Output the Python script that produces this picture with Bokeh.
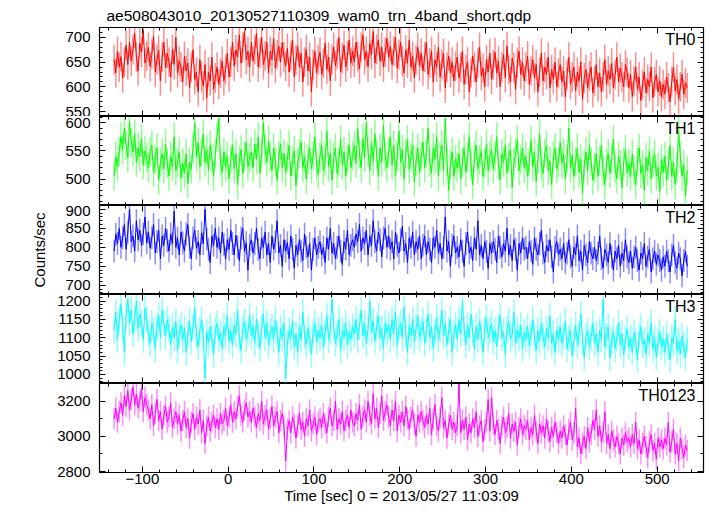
import numpy as np
from bokeh.plotting import figure
from bokeh.models import LinearAxis, Range1d, Label, SingleIntervalTicker
from bokeh.layouts import column
from bokeh.embed import file_html
from bokeh.resources import INLINE

# ---------------- data ----------------
TITLE = "ae508043010_20130527110309_wam0_trn_4band_short.qdp"
XLABEL = "Time [sec] 0 = 2013/05/27 11:03:09"
YLABEL = "Counts/sec"
T0 = -133.0     # time of first bin [s]
DT = 2.0        # bin width [s]
BANDS = ["TH0", "TH1", "TH2", "TH3", "TH0123"]
ERRS = [30, 26, 30, 36, 60]   # typical 1-sigma error per bin (counts/sec)

th0 = [
    655, 628, 672, 640, 661, 618, 650, 684, 645, 690, 652, 675, 708, 660, 632, 688, 670, 715, 648, 662,
    680, 641, 666, 702, 630, 655, 674, 612, 660, 690, 638, 668, 650, 620, 676, 645, 700, 628, 652, 640,
    610, 662, 632, 648, 598, 640, 675, 615, 630, 590, 655, 620, 602, 645, 578, 630, 612, 660, 595, 618,
    640, 605, 628, 652, 612, 635, 668, 620, 650, 690, 642, 675, 660, 705, 648, 680, 712, 655, 672, 640,
    690, 652, 675, 708, 640, 668, 700, 645, 662, 690, 628, 672, 655, 698, 638, 665, 682, 650, 690, 660,
    642, 678, 630, 662, 695, 620, 655, 682, 640, 668, 610, 650, 676, 632, 660, 590, 645, 672, 628, 655,
    670, 625, 648, 688, 635, 660, 612, 655, 680, 642, 666, 700, 630, 658, 684, 640, 662, 695, 648, 672,
    650, 690, 662, 636, 680, 705, 655, 672, 640, 688, 665, 712, 648, 676, 695, 652, 680, 640, 670, 698,
    660, 682, 645, 672, 700, 638, 665, 690, 652, 628, 675, 648, 695, 640, 662, 618, 655, 680, 642, 668,
    632, 660, 690, 625, 648, 672, 610, 655, 640, 680, 620, 645, 668, 598, 640, 662, 628, 650, 612, 642,
    660, 618, 640, 672, 605, 635, 650, 590, 628, 662, 640, 610, 648, 680, 622, 638, 600, 655, 630, 668,
    615, 645, 670, 628, 652, 600, 640, 665, 618, 682, 635, 610, 658, 640, 595, 648, 672, 625, 650, 612,
    640, 662, 605, 632, 655, 618, 645, 590, 630, 668, 612, 640, 625, 660, 598, 635, 615, 650, 600, 628,
    645, 610, 632, 580, 625, 660, 605, 620, 640, 592, 630, 612, 650, 575, 618, 635, 598, 622, 640, 588,
    612, 645, 600, 628, 590, 620, 655, 605, 632, 615, 648, 598, 625, 660, 610, 638, 620, 600, 645, 630,
    598, 625, 580, 612, 640, 595, 620, 572, 605, 630, 588, 615, 600, 640, 578, 610, 625, 590, 612, 580,
    605, 585, 620, 598, 570, 610, 640, 592, 615, 575, 600, 625, 585, 608, 598,
]

th1 = [
    505, 540, 522, 548, 575, 552, 590, 560, 538, 602, 565, 548, 580, 530, 556, 540, 572, 525, 550, 538,
    520, 548, 560, 512, 535, 555, 498, 530, 545, 518, 562, 528, 505, 540, 522, 575, 515, 530, 548, 502,
    528, 510, 545, 492, 530, 518, 555, 600, 540, 565, 522, 548, 580, 530, 552, 515, 560, 538, 505, 545,
    575, 608, 530, 512, 548, 522, 540, 500, 535, 560, 518, 545, 490, 532, 552, 510, 540, 565, 522, 538,
    548, 520, 562, 535, 575, 510, 545, 600, 552, 530, 568, 540, 515, 555, 532, 498, 540, 562, 520, 545,
    512, 538, 560, 505, 532, 550, 488, 528, 545, 565, 520, 540, 500, 535, 555, 518, 542, 575, 525, 508,
    540, 560, 515, 532, 585, 522, 545, 498, 538, 555, 510, 530, 570, 525, 548, 505, 535, 560, 520, 542,
    560, 528, 590, 545, 520, 572, 538, 600, 550, 515, 565, 532, 580, 545, 505, 555, 530, 595, 540, 520,
    548, 575, 525, 560, 505, 540, 585, 530, 552, 500, 545, 570, 518, 538, 560, 495, 532, 555, 512, 540,
    565, 520, 545, 590, 530, 510, 555, 535, 575, 505, 540, 560, 515, 608, 532, 480, 525, 548, 505, 535,
    520, 545, 500, 530, 555, 512, 538, 575, 525, 490, 540, 560, 518, 535, 550, 505, 528, 562, 515, 540,
    552, 518, 540, 575, 525, 498, 545, 530, 560, 510, 538, 552, 485, 528, 545, 570, 515, 535, 555, 520,
    540, 505, 530, 568, 522, 548, 495, 535, 580, 525, 510, 545, 560, 515, 532, 490, 540, 555, 518, 530,
    565, 528, 545, 500, 535, 590, 520, 542, 505, 530, 555, 512, 535, 475, 525, 548, 515, 560, 530, 498,
    520, 545, 505, 532, 560, 515, 490, 528, 545, 510, 535, 570, 518, 500, 540, 525, 485, 530, 552, 512,
    528, 505, 545, 515, 490, 532, 555, 510, 525, 480, 538, 515, 550, 500, 528, 545, 505, 520, 478, 535,
    512, 540, 498, 525, 560, 505, 530, 490, 520, 585, 540, 505, 525, 470, 515,
]

th2 = [
    790, 835, 810, 850, 800, 825, 860, 795, 840, 900, 815, 830, 790, 870, 820, 845, 805, 835, 880, 812,
    840, 798, 825, 860, 785, 815, 845, 770, 830, 805, 850, 818, 790, 835, 810, 895, 800, 825, 780, 840,
    812, 790, 835, 860, 800, 770, 825, 845, 798, 815, 780, 838, 810, 900, 822, 795, 760, 830, 805, 850,
    800, 825, 785, 840, 808, 770, 820, 795, 845, 810, 780, 832, 800, 765, 825, 850, 790, 812, 740, 805,
    820, 785, 810, 850, 795, 770, 825, 800, 840, 780, 810, 760, 830, 795, 815, 870, 785, 805, 750, 820,
    790, 812, 770, 830, 795, 745, 805, 780, 820, 790, 765, 835, 800, 775, 810, 740, 795, 825, 780, 800,
    815, 780, 800, 760, 825, 795, 850, 785, 810, 770, 800, 830, 790, 755, 815, 795, 845, 780, 805, 820,
    800, 835, 815, 860, 790, 825, 810, 845, 780, 830, 805, 870, 815, 790, 840, 820, 775, 825, 850, 800,
    830, 795, 815, 770, 840, 805, 785, 820, 855, 790, 810, 760, 825, 800, 840, 780, 815, 795, 830, 770,
    805, 830, 780, 815, 795, 760, 825, 800, 845, 785, 810, 770, 800, 880, 790, 815, 750, 805, 830, 785,
    800, 775, 820, 790, 750, 810, 840, 785, 800, 765, 825, 795, 870, 780, 805, 770, 815, 790, 745, 810,
    785, 815, 795, 760, 830, 800, 775, 810, 790, 850, 780, 805, 765, 820, 795, 740, 810, 785, 825, 795,
    800, 770, 815, 790, 755, 825, 795, 780, 810, 845, 785, 760, 805, 790, 820, 775, 735, 800, 815, 780,
    795, 770, 810, 760, 785, 820, 775, 750, 800, 780, 830, 765, 790, 740, 805, 780, 760, 815, 785, 770,
    800, 765, 785, 830, 770, 745, 795, 780, 760, 810, 775, 740, 790, 770, 805, 750, 785, 765, 820, 775,
    760, 790, 745, 775, 800, 765, 740, 785, 770, 810, 750, 775, 795, 735, 770, 790, 755, 780, 765, 740,
    775, 750, 790, 765, 735, 780, 805, 760, 745, 785, 770, 725, 765, 790, 750,
]

th3 = [
    1120, 1170, 1095, 1150, 1190, 1130, 1060, 1160, 1205, 1140, 1175, 1110, 1150, 1200, 1125, 1165, 1140, 1095, 1180, 1150,
    1110, 1085, 1140, 1120, 1070, 1130, 1160, 1100, 1175, 1140, 1105, 1150, 1125, 1080, 1130, 1100, 1145, 1065, 1115, 1135,
    1095, 1125, 1060, 1110, 1145, 1090, 1130, 1180, 1105, 1075, 1120, 1150, 1100, 990, 1115, 1085, 1130, 1100, 1055, 1120,
    1140, 1095, 1115, 1070, 1130, 1105, 1160, 1090, 1120, 1080, 1135, 1110, 1175, 1100, 1065, 1125, 1145, 1095, 1115, 1160,
    1105, 1130, 1085, 1150, 1110, 1070, 1125, 1165, 1100, 1140, 1080, 1115, 1130, 1095, 1150, 1110, 1060, 1125, 1100, 1140,
    990, 1085, 1120, 1100, 1145, 1075, 1110, 1060, 1130, 1095, 1170, 1105, 1080, 1125, 1100, 1055, 1115, 1140, 1090, 1120,
    1100, 1135, 1075, 1115, 1160, 1095, 1120, 1205, 1130, 1085, 1110, 1150, 1065, 1120, 1100, 1140, 1080, 1115, 1095, 1130,
    1110, 1150, 1095, 1130, 1175, 1105, 1140, 1085, 1125, 1200, 1115, 1145, 1090, 1130, 1160, 1100, 1125, 1070, 1140, 1115,
    1135, 1095, 1150, 1110, 1170, 1080, 1125, 1140, 1100, 1185, 1115, 1060, 1130, 1105, 1150, 1090, 1125, 1160, 1100, 1120,
    1145, 1085, 1120, 1165, 1100, 1130, 1070, 1115, 1155, 1095, 1125, 1175, 1105, 1140, 1080, 1120, 1150, 1060, 1110, 1135,
    1095, 1150, 1110, 1200, 1125, 1080, 1135, 1100, 1165, 1115, 1070, 1130, 1095, 1145, 1110, 1060, 1125, 1155, 1100, 1120,
    1140, 1090, 1120, 1075, 1130, 1160, 1100, 1115, 1055, 1125, 1145, 1095, 1110, 1170, 1085, 1120, 1100, 1135, 1070, 1115,
    1095, 1130, 1080, 1110, 1150, 1100, 1065, 1120, 1090, 1140, 1105, 1075, 1125, 1100, 1160, 1085, 1110, 1060, 1120, 1095,
    1130, 1085, 1105, 1145, 1070, 1100, 1120, 1050, 1095, 1135, 1080, 1110, 1165, 1090, 1045, 1105, 1120, 1075, 1100, 1140,
    1085, 1110, 1060, 1120, 1095, 1205, 1075, 1105, 1130, 1045, 1090, 1115, 1070, 1100, 1140, 1080, 1110, 1055, 1095, 1125,
    1075, 1100, 1060, 1115, 1090, 1040, 1105, 1130, 1080, 1095, 1055, 1110, 1085, 1140, 1070, 1100, 1045, 1090, 1115, 1075,
    1095, 1060, 1110, 1075, 1040, 1100, 1085, 1150, 1065, 1090, 1055, 1105, 1080, 1045, 1095,
]

th0123 = [
    3100, 3160, 3080, 3140, 3190, 3120, 3230, 3170, 3260, 3150, 3210, 3280, 3180, 3240, 3160, 3200, 3270, 3140, 3220, 3180,
    3150, 3100, 3180, 3060, 3130, 3210, 3090, 3140, 3040, 3120, 3170, 3080, 3110, 3190, 3050, 3100, 3140, 3070, 3120, 3030,
    3090, 3140, 3050, 3100, 2990, 3080, 3130, 3040, 3110, 3070, 3150, 3020, 3090, 2960, 3060, 3110, 3030, 3080, 3120, 3050,
    3100, 3040, 3130, 3070, 3090, 3160, 3060, 3110, 3180, 3080, 3140, 3100, 3170, 3230, 3120, 3080, 3150, 3190, 3110, 3140,
    3080, 3160, 3110, 3050, 3130, 3090, 3200, 3070, 3120, 3150, 3040, 3100, 3170, 3060, 3110, 3140, 3020, 3090, 3130, 3060,
    2860, 3040, 3090, 3020, 3110, 3070, 2990, 3060, 3130, 3040, 3080, 3000, 3100, 3060, 3150, 3030, 3070, 3110, 3010, 3080,
    3100, 3050, 3130, 3070, 3020, 3110, 3160, 3060, 3090, 3200, 3040, 3100, 3070, 3140, 3030, 3090, 3120, 3050, 3150, 3080,
    3060, 3130, 3090, 3180, 3040, 3110, 3150, 3080, 3200, 3120, 3070, 3240, 3100, 3160, 3050, 3130, 3230, 3090, 3140, 3180,
    3110, 3060, 3150, 3090, 3200, 3030, 3120, 3080, 3140, 3060, 3170, 3100, 3040, 3110, 3150, 3070, 3000, 3120, 3080, 3140,
    3090, 3050, 3120, 3070, 3160, 3010, 3100, 3180, 3060, 3030, 3110, 3220, 3050, 3090, 2990, 3070, 3120, 3040, 3080, 3020,
    3060, 3300, 3020, 3090, 3040, 3110, 2980, 3070, 3020, 3100, 3050, 3140, 3000, 3060, 3090, 2970, 3040, 3080, 3210, 3030,
    3220, 3070, 3010, 3090, 3040, 2960, 3060, 3110, 3020, 3050, 3130, 2990, 3070, 3030, 3080, 2950, 3050, 3100, 3010, 3060,
    3040, 3090, 2980, 3050, 3010, 3120, 3030, 2960, 3070, 3020, 3060, 2990, 3100, 3030, 2970, 3050, 3000, 3080, 3020, 2960,
    3030, 2990, 3060, 3010, 2950, 3040, 3080, 2980, 3020, 3160, 2940, 2990, 2900, 2960, 3000, 2930, 3050, 2970, 3010, 3090,
    3040, 3150, 3000, 3060, 2970, 3020, 3140, 2960, 3010, 2930, 3030, 2980, 2940, 3000, 2960, 2900, 2990, 2950, 3020, 2970,
    2990, 2940, 3010, 2960, 3080, 2930, 2980, 2900, 2960, 3000, 2940, 2880, 2970, 3010, 2920, 2960, 2870, 2990, 2940, 2980,
    2930, 2990, 2950, 3080, 2910, 2970, 3040, 2900, 2960, 2860, 2990, 2930, 2880, 2950, 2920,
]

SERIES = [th0, th1, th2, th3, th0123]

# ---------------- style ----------------
COLORS = ["#ff0000", "#00ff00", "#0000ff", "#00ffff", "#ff00ff"]
YRANGES = [(540, 720), (453, 611), (676, 910), (975, 1218), (2795, 3300)]
YMAJOR = [50, 50, 50, 50, 200]
YMINOR = [5, 5, 5, 5, 2]
FONT = "Liberation Sans"
FS = "15px"
FRAME_W, FRAME_H = 604, 89

x_range = Range1d(-150, 554)


def style_axis(ax, labeled):
    ax.major_tick_in = 6
    ax.major_tick_out = 0
    ax.minor_tick_in = 3
    ax.minor_tick_out = 0
    ax.axis_line_color = "black"
    ax.major_tick_line_color = "black"
    ax.minor_tick_line_color = "black"
    ax.major_label_text_font = FONT
    ax.major_label_text_color = "black"
    if labeled:
        ax.major_label_text_font_size = FS
    else:
        ax.major_label_text_font_size = "0px"
        ax.major_label_standoff = 0


figs = []
n = len(BANDS)
for i, (name, vals) in enumerate(zip(BANDS, SERIES)):
    first = i == 0
    last = i == n - 1
    y = np.array(vals, dtype=float)
    t = T0 + DT * np.arange(len(y))
    err = ERRS[i]

    p = figure(frame_width=FRAME_W, frame_height=FRAME_H,
               x_range=x_range, y_range=Range1d(*YRANGES[i]),
               output_backend="svg", toolbar_location=None,
               x_axis_location=None, y_axis_location=None,
               min_border_left=99, min_border_right=5,
               min_border_top=19 if first else 0,
               min_border_bottom=33 if last else 0)
    p.grid.visible = False
    p.outline_line_color = "black"
    p.outline_line_width = 1.2
    p.background_fill_color = "white"
    p.border_fill_color = "white"

    xt = lambda: SingleIntervalTicker(interval=100, num_minor_ticks=5)
    yt = lambda: SingleIntervalTicker(interval=YMAJOR[i], num_minor_ticks=YMINOR[i])

    bottom = LinearAxis(ticker=xt())
    style_axis(bottom, last)
    if last:
        bottom.major_label_standoff = 1
        bottom.axis_label = XLABEL
        bottom.axis_label_text_font = FONT
        bottom.axis_label_text_font_size = FS
        bottom.axis_label_text_font_style = "normal"
        bottom.axis_label_text_color = "black"
        bottom.axis_label_standoff = 0
    top = LinearAxis(ticker=xt())
    style_axis(top, False)
    left = LinearAxis(ticker=yt())
    style_axis(left, True)
    left.major_label_standoff = 9
    if i == 2:
        left.axis_label = YLABEL
        left.axis_label_text_font = FONT
        left.axis_label_text_font_size = FS
        left.axis_label_text_font_style = "normal"
        left.axis_label_text_color = "black"
        left.axis_label_standoff = 14
    right = LinearAxis(ticker=yt())
    style_axis(right, False)

    p.add_layout(bottom, "below")
    p.add_layout(top, "above")
    p.add_layout(left, "left")
    p.add_layout(right, "right")

    if first:
        p.title.text = TITLE
        p.title.text_font = FONT
        p.title.text_font_size = "15.5px"
        p.title.text_font_style = "normal"
        p.title.text_color = "black"
        p.title.align = "left"
        p.title.standoff = 8
        p.title.offset = 7

    p.segment(x0=t, y0=y - err, x1=t, y1=y + err, line_color=COLORS[i],
              line_alpha=0.45, line_width=1.5)
    p.line(t, y, line_color=COLORS[i], line_width=1)

    p.add_layout(Label(x=x_range.end, y=YRANGES[i][1], x_offset=-8, y_offset=-3,
                       text=name, text_align="right", text_baseline="top",
                       text_font=FONT, text_font_size="16px", text_color="black"))
    figs.append(p)

layout = column(*figs, spacing=0)
open("out.html", "w").write(file_html(layout, INLINE))
